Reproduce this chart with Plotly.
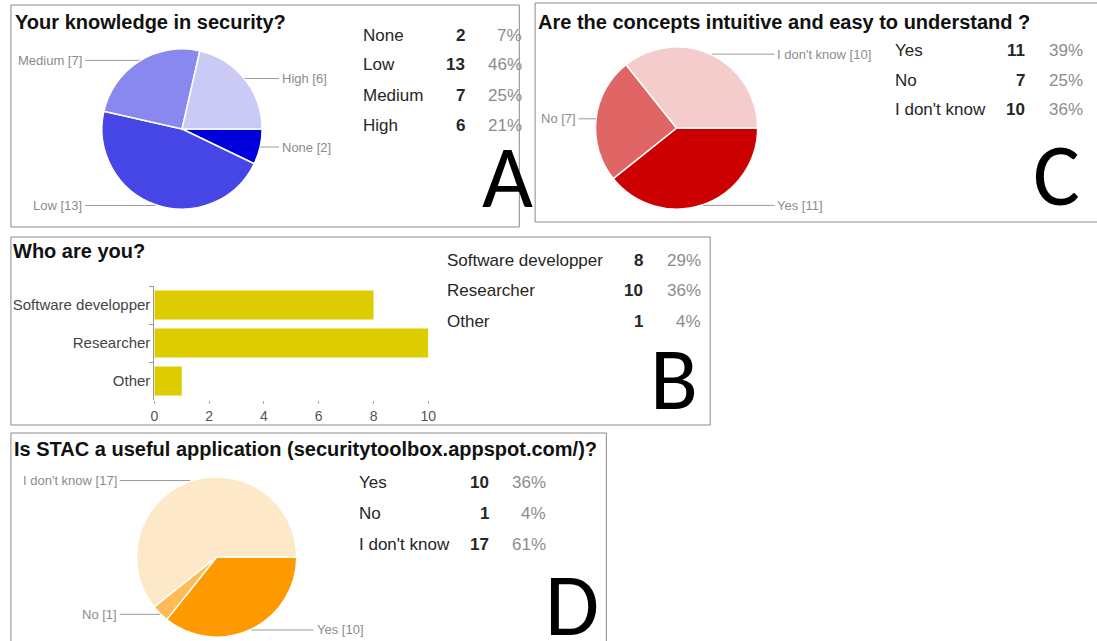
import math
import plotly.graph_objects as go

# ---- survey answers (28 respondents) ----
respondents = 28

knowledge_labels = ["None", "Low", "Medium", "High"]
knowledge_counts = [2, 13, 7, 6]
knowledge_colors = ["#0000DC", "#4646E6", "#8888EE", "#CACAF6"]

intuitive_labels = ["Yes", "No", "I don't know"]
intuitive_counts = [11, 7, 10]
intuitive_colors = ["#CC0000", "#E06666", "#F4CCCC"]

role_labels = ["Software developper", "Researcher", "Other"]
role_counts = [8, 10, 1]
role_color = "#DCCC00"

useful_labels = ["Yes", "No", "I don't know"]
useful_counts = [10, 1, 17]
useful_colors = ["#FF9900", "#FFBB55", "#FDE8C8"]

# ---- page geometry (pixels) ----
W, H = 1097, 641
FONT = "Liberation Sans, Arial, sans-serif"
TITLE = 20
TABLE = 17
SLICE_LABEL = 13


def fx(x):
    return x / W


def fy(y):
    return 1 - y / H


fig = go.Figure()
shapes = []
annotations = []


def text(x, y, s, size=15, color="#222", anchor="left", family=FONT):
    annotations.append(dict(
        x=fx(x), y=fy(y), xref="paper", yref="paper", text=s, showarrow=False,
        xanchor=anchor, yanchor="middle", borderpad=0,
        font=dict(size=size, color=color, family=family)))


def box(x0, y0, x1, y1):
    shapes.append(dict(type="rect", xref="paper", yref="paper",
                       x0=fx(x0), y0=fy(y1), x1=fx(x1), y1=fy(y0),
                       line=dict(color="#8a8a8a", width=1)))


def pie(labels, values, colors, cx, cy, r):
    fig.add_trace(go.Pie(
        labels=labels, values=values, sort=False, direction="clockwise", rotation=90,
        marker=dict(colors=colors, line=dict(color="white", width=1.5)),
        textinfo="none", showlegend=False, hoverinfo="label+value+percent",
        domain=dict(x=[fx(cx - r), fx(cx + r)], y=[fy(cy + r), fy(cy - r)])))
    # outside labels with leader lines, at each slice's mid angle
    total = sum(values)
    cum = 0
    gap = 19
    for lab, v in zip(labels, values):
        mid = math.radians((cum + v / 2) / total * 360)
        cum += v
        x0 = cx + r * math.cos(mid)
        y0 = cy + r * math.sin(mid)
        right = x0 >= cx
        xl = cx + r + gap if right else cx - r - gap
        shapes.append(dict(type="line", xref="paper", yref="paper",
                           x0=fx(x0), y0=fy(y0), x1=fx(xl + (-2 if right else 2)), y1=fy(y0),
                           line=dict(color="#9a9a9a", width=1)))
        text(xl, y0, f"{lab} [{v}]", size=SLICE_LABEL, color="#8c8c8c",
             anchor="left" if right else "right")


def table(labels, values, x_label, x_num, x_pct, y_top, step, size=TABLE):
    for i, (lab, v) in enumerate(zip(labels, values)):
        y = y_top + i * step
        text(x_label, y, lab, size=size, color="#262626")
        text(x_num, y, f"<b>{v}</b>", size=size, color="#262626", anchor="right")
        text(x_pct, y, f"{round(v / respondents * 100)}%", size=size, color="#8c8c8c", anchor="right")


def letter(x, y, s):
    text(x, y, s, size=88, color="#000", anchor="center", family="Carlito, Lato, Open Sans, sans-serif")


# ---- A: knowledge in security ----
box(7, 5, 521, 227)
text(10, 22, "<b>Your knowledge in security?</b>", size=TITLE, color="#111")
pie(knowledge_labels, knowledge_counts, knowledge_colors, 180, 129, 81)
table(knowledge_labels, knowledge_counts, 362, 467, 525, 35, 30)
letter(509, 177, "A")

# ---- C: intuitive concepts ----
box(537, 3, 1120, 222)
text(539, 22, "<b>Are the concepts intuitive and easy to understand ?</b>", size=TITLE, color="#111")
pie(intuitive_labels, intuitive_counts, intuitive_colors, 680, 128, 82)
table(intuitive_labels, intuitive_counts, 900, 1033, 1092, 50, 30)
letter(1064, 175, "C")

# ---- B: who are you ----
box(7, 237, 714, 425)
text(8, 251, "<b>Who are you?</b>", size=TITLE, color="#111")
fig.add_trace(go.Bar(
    x=role_counts, y=role_labels, orientation="h", marker=dict(color=role_color, line=dict(width=0)),
    showlegend=False, xaxis="x", yaxis="y", hoverinfo="x+y"))
table(role_labels, role_counts, 447, 647, 706, 260, 30.5)
letter(677, 379, "B")

# ---- D: is STAC useful ----
box(7, 433, 609, 660)
text(9, 449, "<b>Is STAC a useful application (securitytoolbox.appspot.com/)?</b>", size=TITLE, color="#111")
pie(useful_labels, useful_counts, useful_colors, 215, 557, 81)
table(useful_labels, useful_counts, 358, 491, 549, 482, 31)
letter(574, 605, "D")

fig.update_layout(
    width=W, height=H, margin=dict(l=0, r=0, t=0, b=0),
    paper_bgcolor="white", plot_bgcolor="white",
    font=dict(family=FONT),
    bargap=0.24,
    xaxis=dict(domain=[fx(152), fx(429)], range=[0, 10], dtick=2, showgrid=False, zeroline=False,
               showline=False, ticks="outside", ticklen=3, tickcolor="#aaa",
               tickfont=dict(size=14, color="#555"), anchor="y", fixedrange=True),
    yaxis=dict(domain=[fy(400), fy(286)], autorange="reversed", showgrid=False, zeroline=False,
               showline=True, linecolor="#999", ticks="outside", ticklen=4, tickcolor="#999",
               tickson="boundaries", tickfont=dict(size=15, color="#444"), anchor="x", fixedrange=True),
    shapes=shapes, annotations=annotations,
)

fig.write_html("out.html")
